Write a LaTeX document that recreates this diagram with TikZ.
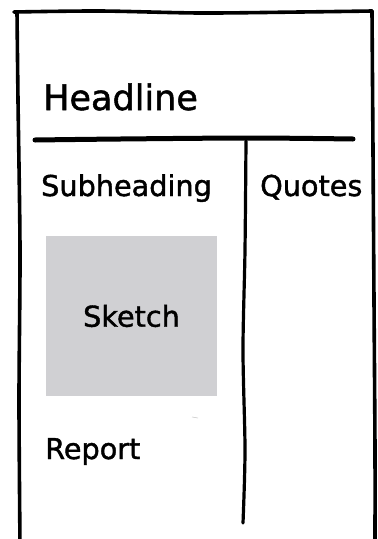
\documentclass[tikz,border=0pt]{standalone}
\usepackage{fontspec}
\setsansfont{DejaVu Sans}
\newfontfamily\medfont{DejaVu Sans}[FakeBold=1.4]
\definecolor{sketchgrey}{RGB}{208,208,211}
\begin{document}
\begin{tikzpicture}[x=1pt, y=-1pt, font=\medfont,
  pen/.style={line width=3.6pt, line cap=round, line join=round},
  txt/.style={anchor=base west, inner sep=0pt, font=\medfont\fontsize{28.7}{32}\selectfont}]
\useasboundingbox (0,0) rectangle (378,539);

% Page frame
\draw[pen] plot[smooth] coordinates {(20,545) (19,400) (20,250) (18,100) (17,12)};
\draw[pen] plot[smooth] coordinates {(14,12) (100,11) (200,13) (300,12) (372,11)};
\draw[pen] plot[smooth] coordinates {(372,11) (373,150) (374,300) (375,450) (375,545)};

% Headline
\node[txt, font=\medfont\fontsize{35}{40}\selectfont] (headline) at (43,110) {Headline};
\draw[pen, line width=5pt] plot[smooth] coordinates {(35,140) (120,139) (250,138) (353,139)};

% Column divider
\draw[pen, line width=3.2pt] plot[smooth] coordinates {(246,141) (245,250) (243,350) (245,450) (243,523)};

% Left column
\node[txt] (subheading) at (41,196) {Subheading};
\node[fill=sketchgrey, minimum width=171pt, minimum height=160pt, inner sep=0pt,
  font=\medfont\fontsize{28.7}{32}\selectfont] (sketch) at (131.5,316) {Sketch};
\draw[gray!40, line width=0.6pt] (192,417) -- (198,418);
\node[txt] (report) at (45,459) {Report};

% Right column
\node[txt] (quotes) at (260,196) {Quotes};

\end{tikzpicture}
\end{document}
